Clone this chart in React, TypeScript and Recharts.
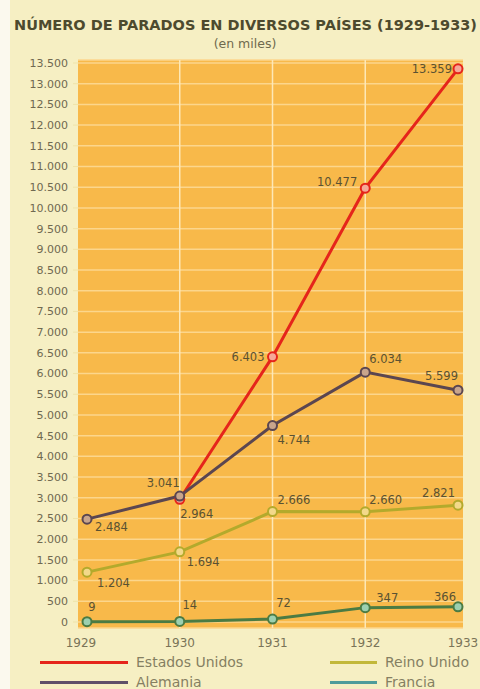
import { LineChart, Line, XAxis, YAxis, CartesianGrid, ReferenceLine } from 'recharts'

const years = ['1929', '1930', '1931', '1932', '1933']
const estadosUnidos = [null, 2964, 6403, 10477, 13359]
const alemania = [2484, 3041, 4744, 6034, 5599]
const reinoUnido = [1204, 1694, 2666, 2660, 2821]
const francia = [9, 14, 72, 347, 366]
const yTicks = [
  0, 500, 1000, 1500, 2000, 2500, 3000, 3500, 4000, 4500, 5000, 5500, 6000, 6500,
  7000, 7500, 8000, 8500, 9000, 9500, 10000, 10500, 11000, 11500, 12000, 12500, 13000, 13500,
]

const data = years.map((year, i) => ({
  year,
  eeuu: estadosUnidos[i],
  alemania: alemania[i],
  reino: reinoUnido[i],
  francia: francia[i],
}))

const fmt = (v: number) => v.toString().replace(/\B(?=(\d{3})+(?!\d))/g, '.')

// where each value label sits relative to its point: [anchor, dx, dy]
const labelPlace: Record<string, [string, number, number][]> = {
  eeuu: [['middle', 0, 0], ['middle', 17, 15], ['end', -8, 0], ['end', -8, -6], ['end', -6, 0]],
  alemania: [['start', 8, 8], ['end', 0, -13], ['start', 5, 14], ['start', 4, -13], ['end', 0, -14]],
  reino: [['start', 10, 11], ['start', 7, 10], ['start', 5, -12], ['start', 4, -12], ['end', -3, -12]],
  francia: [['middle', 5, -15], ['middle', 10, -16], ['middle', 11, -16], ['middle', 22, -10], ['middle', -13, -10]],
}

const series = [
  { key: 'eeuu', name: 'Estados Unidos', line: '#e5251b', dot: '#f6a898', legend: '#e5251b' },
  { key: 'alemania', name: 'Alemania', line: '#5b4650', dot: '#c9a58c', legend: '#5f5068' },
  { key: 'reino', name: 'Reino Unido', line: '#b3aa2c', dot: '#f3d98a', legend: '#c2b83a' },
  { key: 'francia', name: 'Francia', line: '#4b7b43', dot: '#9cd0b0', legend: '#4f9c9a' },
]

const textColor = '#5a5232'
const font = '"DejaVu Sans", Verdana, sans-serif'

function makeLabel(key: string) {
  return (props: any) => {
    const { x, y, value, index } = props
    if (value == null || x == null || y == null) return null
    const [anchor, dx, dy] = labelPlace[key][index]
    return (
      <text
        x={x + dx}
        y={y + dy}
        dy="0.35em"
        textAnchor={anchor as any}
        fontSize={11.5}
        fontFamily={font}
        fill={textColor}
      >
        {fmt(value)}
      </text>
    )
  }
}

function XTick(props: any) {
  const { x, y, payload, index } = props
  const shift = index === 0 ? -6 : index === years.length - 1 ? 5 : 0
  return (
    <text x={x + shift} y={y} dy="0.71em" textAnchor="middle" fontSize={12} fontFamily={font} fill="#7a7458">
      {payload.value}
    </text>
  )
}

export default function App() {
  const legendLeft = [series[0], series[1]]
  const legendRight = [series[2], series[3]]
  return (
    <div style={{ position: 'absolute', left: 0, top: 0, width: 480, height: 689, background: '#f6efc3', overflow: 'hidden', fontFamily: font }}>
      <div style={{ position: 'absolute', left: 0, top: 0, width: 10, height: 689, background: '#fbf9ee' }} />
      <svg width={480} height={60} style={{ position: 'absolute', left: 0, top: 0 }}>
        <text x={14} y={30} fontSize={14} fontWeight="bold" fill="#4d4a2e" fontFamily={font} textLength={463} lengthAdjust="spacingAndGlyphs">
          NÚMERO DE PARADOS EN DIVERSOS PAÍSES (1929-1933)
        </text>
        <text x={245} y={48} fontSize={12.5} fill="#6f6a4e" fontFamily={font} textAnchor="middle">
          (en miles)
        </text>
      </svg>
      <div style={{ position: 'absolute', left: 0, top: 0 }}>
        <LineChart width={480} height={689} data={data} margin={{ top: 60, right: 17, left: 0, bottom: 0 }}>
          <CartesianGrid vertical={false} fill="#f8b94a" stroke="#fcd68c" strokeWidth={1.5} />
          {years.slice(1, -1).map(yr => (
            <ReferenceLine key={yr} x={yr} stroke="#fde8b6" strokeWidth={1.5} />
          ))}
          <XAxis
            dataKey="year"
            height={61}
            padding={{ left: 9, right: 5 }}
            axisLine={false}
            tickLine={false}
            tickSize={0}
            tickMargin={10}
            interval={0}
            tick={<XTick />}
          />
          <YAxis
            width={78}
            domain={[0, 13500]}
            ticks={yTicks}
            interval={0}
            padding={{ top: 3, bottom: 6 }}
            axisLine={false}
            tickLine={{ stroke: '#efe3a8' }}
            tickSize={5}
            tickMargin={5}
            tickFormatter={fmt}
            tick={{ fontSize: 11, fill: '#6f6950', fontFamily: font }}
          />
          {series.map(s => (
            <Line
              key={s.key}
              dataKey={s.key}
              name={s.name}
              stroke={s.line}
              strokeWidth={3}
              dot={{ r: 4.5, fill: s.dot, stroke: s.line, strokeWidth: 2 }}
              activeDot={false}
              label={makeLabel(s.key)}
              isAnimationActive={false}
            />
          ))}
        </LineChart>
      </div>
      {[legendLeft, legendRight].map((col, c) => (
        <div key={c} style={{ position: 'absolute', left: c === 0 ? 40 : 330, top: 652 }}>
          {col.map(s => (
            <div key={s.key} style={{ display: 'flex', alignItems: 'center', height: 20 }}>
              <div style={{ width: c === 0 ? 88 : 47, height: 3, background: s.legend, marginRight: 8 }} />
              <span style={{ fontSize: 14, color: '#857f62' }}>{s.name}</span>
            </div>
          ))}
        </div>
      ))}
    </div>
  )
}
